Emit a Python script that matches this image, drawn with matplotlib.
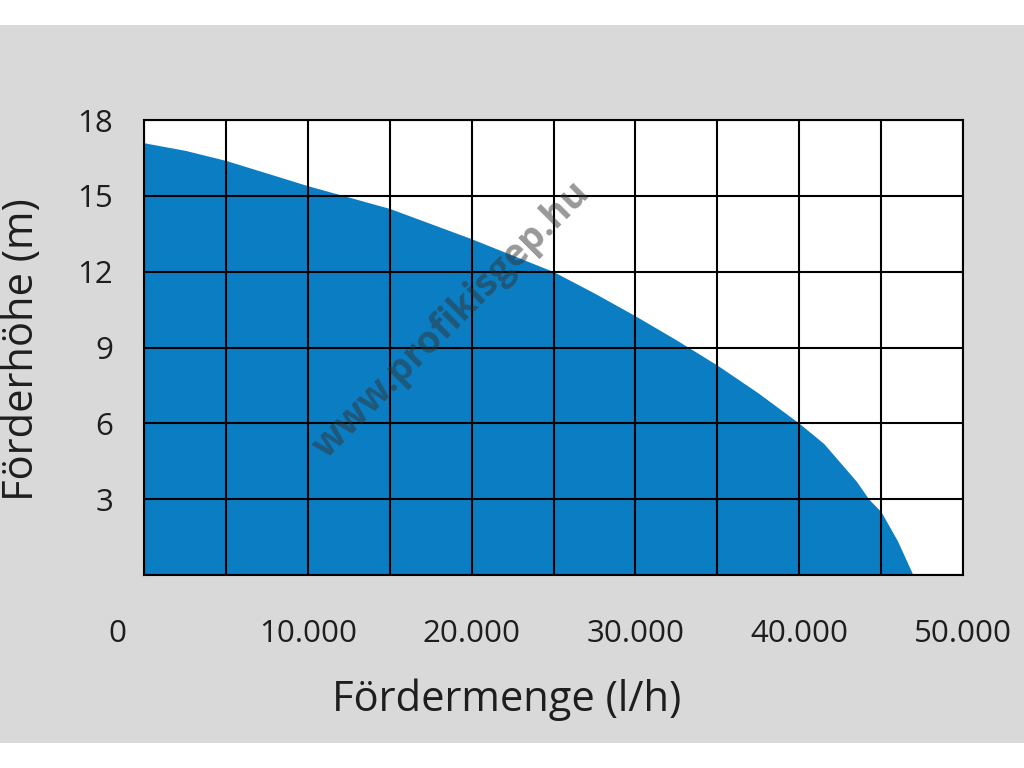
import matplotlib.pyplot as plt
from matplotlib.patches import Rectangle
from matplotlib.transforms import ScaledTranslation

plt.rcParams['font.family'] = ['Open Sans', 'DejaVu Sans']

# values
flow = [0, 2500, 5000, 10000, 15000, 20000, 25000, 27500, 30000, 32500, 35000,
        37500, 40000, 41500, 42500, 43500, 44250, 45000, 46000, 46950]
head = [17.1, 16.8, 16.4, 15.4, 14.5, 13.3, 12.0, 11.15, 10.25, 9.3, 8.3,
        7.2, 6.0, 5.2, 4.45, 3.7, 3.0, 2.5, 1.35, 0.0]

x_ticks = [0, 5000, 10000, 15000, 20000, 25000, 30000, 35000, 40000, 45000, 50000]
x_labels = ['0', '', '10.000', '', '20.000', '', '30.000', '', '40.000', '', '50.000']
y_ticks = [0, 3, 6, 9, 12, 15, 18]
y_labels = ['', '3', '6', '9', '12', '15', '18']

BLUE = '#0b7ec3'
GRAY = '#d9d9d9'
TEXT = '#1e1e1e'

fig = plt.figure(figsize=(10.24, 7.68), dpi=100, facecolor='white')
fig.patches.append(Rectangle((0, 25 / 768), 1, 718 / 768, transform=fig.transFigure,
                             facecolor=GRAY, edgecolor='none', zorder=0))

ax = fig.add_axes([144 / 1024, 193 / 768, 819 / 1024, 455 / 768])
ax.set_zorder(2)
ax.set_facecolor('white')

ax.fill_between(flow, head, 0, color=BLUE, linewidth=0, zorder=1)

ax.set_xlim(0, 50000)
ax.set_ylim(0, 18)
ax.set_xticks(x_ticks)
ax.set_xticklabels(x_labels)
ax.set_yticks(y_ticks)
ax.set_yticklabels(y_labels)
ax.tick_params(axis='both', length=0, labelsize=22.5, colors=TEXT)
ax.tick_params(axis='x', pad=32)
ax.tick_params(axis='y', pad=22)

ax.set_axisbelow(False)
ax.grid(True, color='black', linewidth=1.5)
for s in ax.spines.values():
    s.set_color('black')
    s.set_linewidth(1.5)

# the "0" label sits left of the axis corner in the original
zero = ax.get_xticklabels()[0]
zero.set_transform(zero.get_transform() + ScaledTranslation(-27 / 100, 0, fig.dpi_scale_trans))

fig.text(507 / 1024, 1 - 700 / 768, 'Fördermenge (l/h)', ha='center', va='center',
         fontsize=30, color=TEXT, zorder=3)
fig.text(22 / 1024, 1 - 350 / 768, 'Förderhöhe (m)', ha='center', va='center',
         rotation=90, fontsize=30, color=TEXT, zorder=3)

# watermark
ax.text(452 / 1024, 1 - 320 / 768, 'www.profikisgep.hu', transform=fig.transFigure,
        ha='center', va='center', rotation=45, fontsize=27, fontweight='bold',
        color='#333333', alpha=0.5, zorder=5)

fig.savefig('out.png', dpi=100, facecolor=fig.get_facecolor())
